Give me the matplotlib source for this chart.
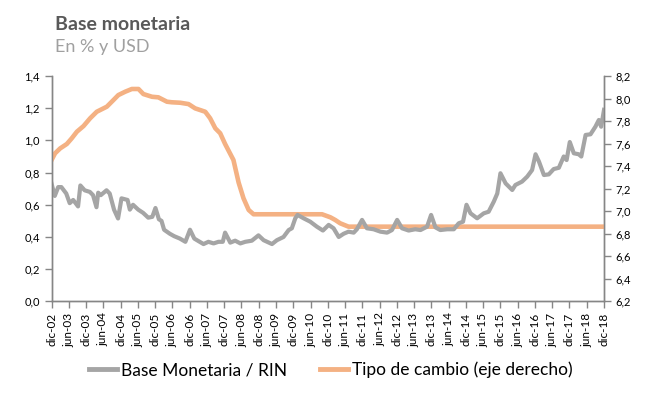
import matplotlib
matplotlib.use('Agg')

import matplotlib.pyplot as plt
from matplotlib.lines import Line2D
from matplotlib.ticker import FuncFormatter

plt.rcParams['font.family'] = ['Lato', 'DejaVu Sans']

# months counted from dic-02 (0) to dic-18 (192)
base_months = [0, 1.1, 2.3, 3.4, 5.1, 6.3, 7.5, 9.2, 10, 11.5, 13.3, 14.4, 15.6, 16.2, 17.1,
               19.1, 20.2, 21.7, 23.1, 24.3, 26.4, 27.2, 28.3, 30.1, 31.8, 33.6, 35, 36.1,
               37.3, 38.2, 39.1, 41.1, 42.6, 44.6, 46.5, 48.1, 49.6, 51, 52.8, 54.5, 56.3,
               58, 59.5, 60.3, 62.1, 63.8, 65.6, 67.3, 69.6, 71.9, 73.7, 76.6, 78.3, 80.6,
               82.4, 83.5, 84.7, 85.5, 87.6, 89.9, 92.2, 94.3, 96.3, 98, 99.8, 101.5, 103.2,
               105, 106.1, 107.9, 109.6, 111.9, 114.3, 116.6, 118.3, 120.1, 121.8, 124.1,
               126.4, 128.2, 130.5, 131.9, 133.4, 135.1, 137.5, 139.8, 141.5, 143, 144.2,
               145.6, 147.9, 150.2, 151.9, 153.7, 154.9, 156, 157.8, 160.1, 161.2, 163.5,
               165.3, 167, 168.2, 169.4, 171.1, 172.8, 174.5, 176.3, 178, 179, 180.1, 181.5,
               183.2, 184.1, 185.6, 187.3, 189, 190.2, 191, 192]
base_rin = [0.73, 0.655, 0.71, 0.71, 0.67, 0.61, 0.63, 0.59, 0.72, 0.69, 0.68, 0.66, 0.585, 0.675, 0.66,
            0.69, 0.67, 0.57, 0.515, 0.64, 0.63, 0.57, 0.60, 0.57, 0.55, 0.52, 0.525, 0.58,
            0.51, 0.50, 0.445, 0.42, 0.405, 0.39, 0.37, 0.445, 0.39, 0.375, 0.356, 0.37, 0.36,
            0.37, 0.37, 0.427, 0.365, 0.377, 0.36, 0.37, 0.377, 0.41, 0.38, 0.356, 0.38, 0.40,
            0.443, 0.454, 0.516, 0.537, 0.516, 0.495, 0.464, 0.44, 0.475, 0.454, 0.40, 0.42, 0.433,
            0.427, 0.448, 0.506, 0.454, 0.448, 0.433, 0.427, 0.443, 0.506, 0.454, 0.44,
            0.448, 0.443, 0.464, 0.537, 0.46, 0.443, 0.448, 0.448, 0.485, 0.495, 0.60,
            0.547, 0.516, 0.547, 0.557, 0.62, 0.67, 0.796, 0.733, 0.692, 0.723, 0.744,
            0.775, 0.816, 0.914, 0.868, 0.785, 0.789, 0.822, 0.83, 0.90, 0.878, 0.99, 0.92,
            0.914, 0.90, 1.034, 1.038, 1.085, 1.127, 1.085, 1.19]

tc_months = [0, 1.2, 3, 5.3, 7, 8.8, 11.1, 13.4, 15.7, 19.2, 21.5, 23.2, 25.6, 27.9, 30.2, 31.9,
             34.9, 37.1, 40.1, 41.8, 44.7, 47.6, 49.9, 53.4, 55.1, 56.9, 58.6, 60.3, 63.2, 65,
             66.7, 68.5, 70.2, 94, 96.9, 98.6, 100.3, 103.2, 192]
tipo_cambio = [7.455, 7.514, 7.558, 7.597, 7.647, 7.706, 7.756, 7.825, 7.883, 7.928, 7.987, 8.031,
               8.061, 8.085, 8.085, 8.04, 8.016, 8.011, 7.972, 7.967, 7.963, 7.951, 7.913, 7.883,
               7.825, 7.736, 7.692, 7.597, 7.455, 7.255, 7.115, 7.011, 6.973, 6.973, 6.946,
               6.922, 6.893, 6.863, 6.863]

x_labels = ['dic-02', 'jun-03', 'dic-03', 'jun-04', 'dic-04', 'jun-05', 'dic-05', 'jun-06',
            'dic-06', 'jun-07', 'dic-07', 'jun-08', 'dic-08', 'jun-09', 'dic-09', 'jun-10',
            'dic-10', 'jun-11', 'dic-11', 'jun-12', 'dic-12', 'jun-13', 'dic-13', 'jun-14',
            'dic-14', 'jun-15', 'dic-15', 'jun-16', 'dic-16', 'jun-17', 'dic-17', 'jun-18',
            'dic-18']

gray = '#A5A5A5'
orange = '#F4B183'
axis_col = '#868686'

fig = plt.figure(figsize=(6.53, 3.96), dpi=100)
ax = fig.add_axes([0.079, 0.239, 0.846, 0.569])
ax2 = ax.twinx()

ax.plot(base_months, base_rin, color=gray, linewidth=3.0, solid_joinstyle='round', zorder=2)
ax2.plot(tc_months, tipo_cambio, color=orange, linewidth=3.3, solid_joinstyle='round', zorder=3)
ax.set_zorder(ax2.get_zorder() + 1)
ax.patch.set_visible(False)

ax.set_xlim(0, 192)
ax.set_ylim(0, 1.4)
ax2.set_ylim(6.2, 8.2)
ax.set_xticks(range(0, 193, 6))
ax.set_xticklabels(x_labels, rotation=90)
ax.set_yticks([0, 0.2, 0.4, 0.6, 0.8, 1.0, 1.2, 1.4])
ax2.set_yticks([6.2, 6.4, 6.6, 6.8, 7.0, 7.2, 7.4, 7.6, 7.8, 8.0, 8.2])
comma = FuncFormatter(lambda v, p: ('%.1f' % v).replace('.', ','))
ax.yaxis.set_major_formatter(comma)
ax2.yaxis.set_major_formatter(comma)

for a in (ax, ax2):
    a.spines['top'].set_visible(False)
    for s in ('left', 'right', 'bottom'):
        a.spines[s].set_color(axis_col)
        a.spines[s].set_linewidth(1.0)
    a.tick_params(colors=axis_col, labelcolor='black', labelsize=8, length=5, width=1)
ax.tick_params(axis='x', pad=3, labelsize=8.5)

fig.text(0.084, 0.925, 'Base monetaria', fontsize=14, fontweight='bold', color='#595959')
fig.text(0.084, 0.868, 'En % y USD', fontsize=13, color='#A0A0A0')

handles = [Line2D([], [], color=gray, linewidth=3.5),
           Line2D([], [], color=orange, linewidth=3.5)]
fig.legend(handles, ['Base Monetaria / RIN', 'Tipo de cambio (eje derecho)'],
           loc='center', bbox_to_anchor=(0.507, 0.066), ncol=2, frameon=False,
           fontsize=12.5, handlelength=1.6, handletextpad=0.25, columnspacing=1.9)

fig.savefig('out.png', dpi=100)
